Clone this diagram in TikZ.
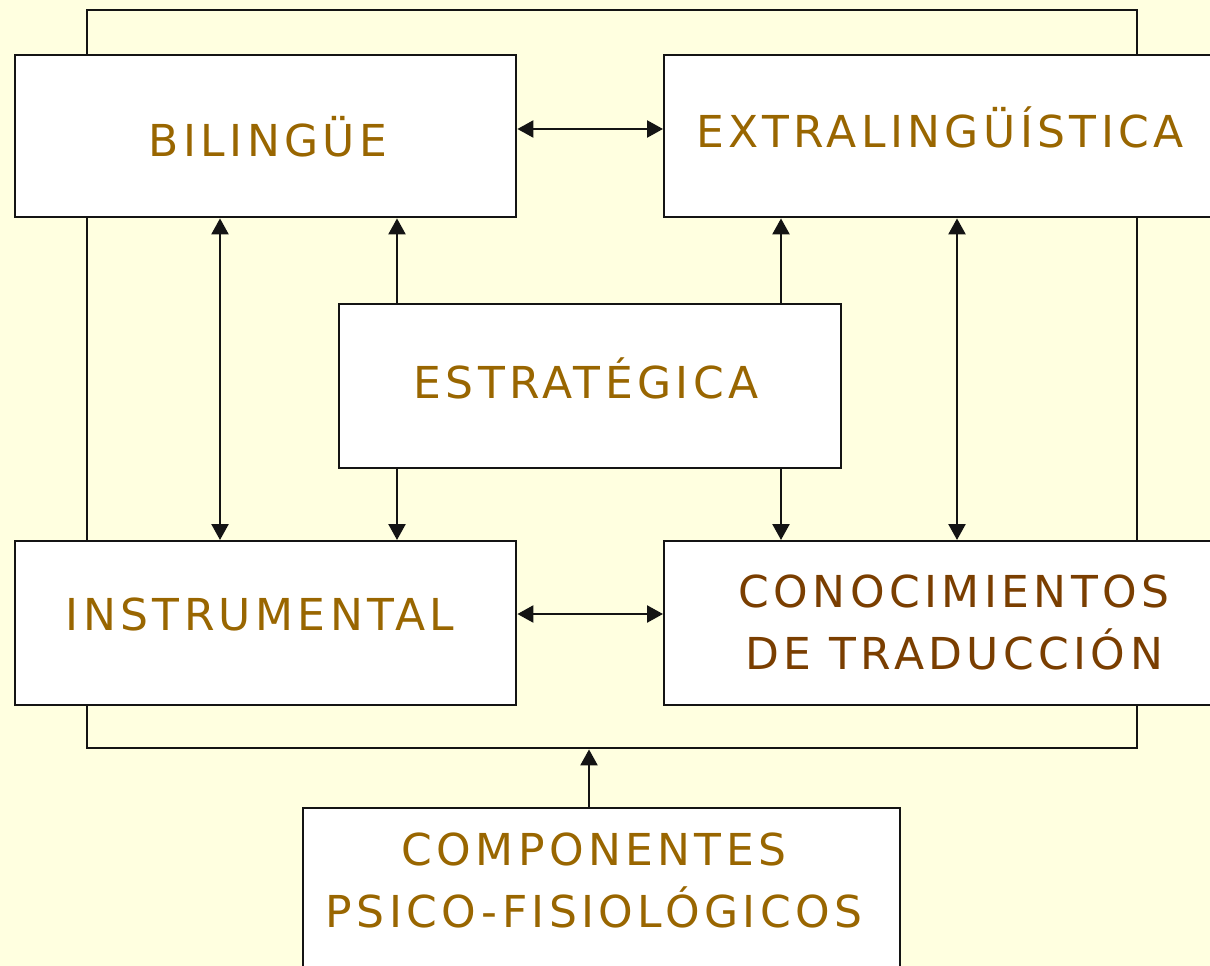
\documentclass[tikz,border=0pt]{standalone}
\usepackage{fontspec}
\setmainfont{DejaVu Sans}[LetterSpace=10]
\usetikzlibrary{arrows.meta}
\definecolor{bg}{HTML}{FFFFE0}
\definecolor{gold}{RGB}{153,102,0}
\definecolor{brn}{RGB}{122,62,0}
\definecolor{ln}{RGB}{20,20,20}
\tikzset{
  box/.style={draw=ln, line width=2.4pt, fill=white, inner sep=0pt, anchor=north west},
  lbl/.style={text=gold, font=\fontsize{44}{62}\selectfont, align=center, inner sep=0pt},
  conn/.style={line width=2.4pt, draw=ln},
  onetip/.style={conn, -{Triangle[length=16pt,width=17pt]}},
  twotip/.style={conn, {Triangle[length=16pt,width=17pt]}-{Triangle[length=16pt,width=17pt]}},
}
\begin{document}
\begin{tikzpicture}[x=1pt,y=-1pt]
\useasboundingbox (0,0) rectangle (1210,966);
\fill[bg] (0,0) rectangle (1210,966);
% outer frame
\node[draw=ln, line width=2.4pt, inner sep=0pt, anchor=north west, minimum width=1050pt, minimum height=738pt] (frame) at (86,9) {};
% boxes
\node[box, minimum width=501pt, minimum height=162pt] (bil) at (14,54) {};
\node[box, minimum width=560pt, minimum height=162pt] (ext) at (663,54) {};
\node[box, minimum width=502pt, minimum height=164pt] (est) at (338,303) {};
\node[box, minimum width=501pt, minimum height=164pt] (ins) at (14,540) {};
\node[box, minimum width=560pt, minimum height=164pt] (con) at (663,540) {};
\node[box, minimum width=597pt, minimum height=180pt] (com) at (302,807) {};
% labels
\node[lbl] (bilt) at (268,137) {BILINGÜE};
\node[lbl] (extt) at (940,127) {EXTRALINGÜÍSTICA};
\node[lbl] (estt) at (586,378) {ESTRATÉGICA};
\node[lbl] (inst) at (260,614) {INSTRUMENTAL};
\node[lbl, text=brn] (cont) at (954,622) {CONOCIMIENTOS\\DE TRADUCCIÓN};
\node[lbl] (comt) at (594,880) {COMPONENTES\\PSICO-FISIOLÓGICOS};
% connectors
\draw[twotip] (bil.east |- 0,129) -- (ext.west |- 0,129);
\draw[twotip] (ins.east |- 0,614) -- (con.west |- 0,614);
\draw[twotip] (bil.south -| 220,0) -- (ins.north -| 220,0);
\draw[onetip] (est.north -| 397,0) -- (bil.south -| 397,0);
\draw[onetip] (est.south -| 397,0) -- (ins.north -| 397,0);
\draw[onetip] (est.north -| 781,0) -- (ext.south -| 781,0);
\draw[onetip] (est.south -| 781,0) -- (con.north -| 781,0);
\draw[twotip] (ext.south -| 957,0) -- (con.north -| 957,0);
\draw[onetip] (com.north -| 589,0) -- (frame.south -| 589,0);
\end{tikzpicture}
\end{document}
